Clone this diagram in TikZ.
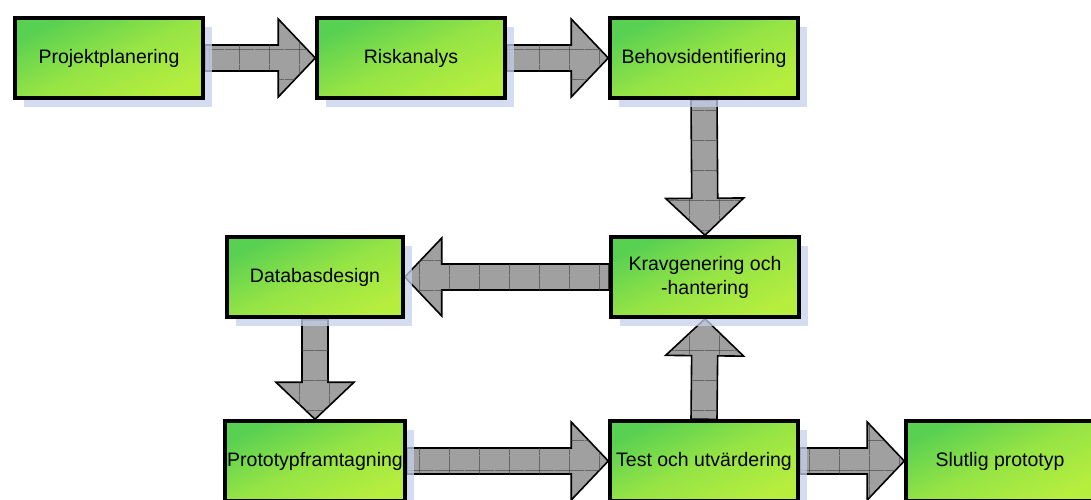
\documentclass[tikz,border=0pt]{standalone}
\usepackage{fontspec}
\setmainfont{Liberation Sans}
\usepackage{xcolor}
\usetikzlibrary{calc,shadows,patterns.meta,backgrounds}

\definecolor{greenA}{RGB}{88,208,82}
\definecolor{greenB}{RGB}{182,238,62}
\definecolor{arrowgray}{RGB}{160,160,160}
\definecolor{gridgray}{RGB}{70,70,70}
\definecolor{shadowblue}{RGB}{196,208,236}

\tikzset{
  box/.style={draw=black, line width=3.5pt, left color=greenA, right color=greenB,
    middle color=greenA!35!greenB, shading angle=25,
    minimum width=188pt, minimum height=80pt, inner sep=0pt,
    align=center, font=\fontsize{19.5}{24}\selectfont,
    drop shadow={shadow xshift=9pt, shadow yshift=-9pt, fill=shadowblue, opacity=0.75}},
  bigarrow/.style={draw=black, line width=1.6pt, fill=arrowgray, line join=miter,
    postaction={pattern={Hatch[distance=30pt, line width=0.5pt]}, pattern color=gridgray},
    to path={let \p1=(\tikztostart), \p2=(\tikztotarget), \p3=($(\p2)!37pt!(\p1)$) in
      ($(\p1)!13pt!90:(\p2)$) -- ($(\p3)!13pt!-90:(\p1)$) -- ($(\p3)!39pt!-90:(\p1)$)
      -- (\p2) -- ($(\p3)!39pt!90:(\p1)$) -- ($(\p3)!13pt!90:(\p1)$)
      -- ($(\p1)!13pt!-90:(\p2)$) -- cycle}}
}

\begin{document}
\begin{tikzpicture}[x=1pt, y=1pt]
    \useasboundingbox (0,0) rectangle (1091,499);

    % Top row
    \node[box] (plan) at (109,441) {Projektplanering};
    \node[box] (risk) at (411,441) {Riskanalys};
    \node[box] (beh) at (704,441) {Behovsidentifiering};

    % Middle row
    \node[box] (krav) at (705,222) {Kravgenering och\\-hantering};
    \node[box, minimum width=176pt] (db) at (315,222) {Databasdesign};

    % Bottom row
    \node[box, minimum width=180pt] (proto) at (315,38) {Prototypframtagning};
    \node[box] (test) at (704,38) {Test och utvärdering};
    \node[box] (slut) at (1000,38) {Slutlig prototyp};

    % Block arrows behind the boxes
    \begin{scope}[on background layer]
        \draw[bigarrow] (plan.east) to (risk.west);
        \draw[bigarrow] (risk.east) to (beh.west);
        \draw[bigarrow] (beh.south) to (krav.north);
        \draw[bigarrow] (krav.west) to (db.east);
        \draw[bigarrow] (db.south) to (proto.north);
        \draw[bigarrow] (proto.east) to (test.west);
        \draw[bigarrow] (test.north) to (krav.south);
        \draw[bigarrow] (test.east) to (slut.west);
    \end{scope}
\end{tikzpicture}
\end{document}
